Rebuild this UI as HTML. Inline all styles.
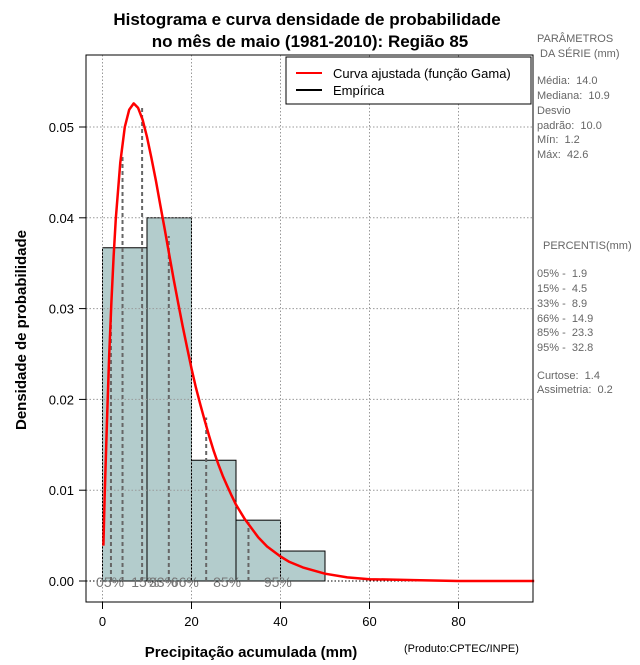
<!DOCTYPE html>
<html><head><meta charset="utf-8"><style>
body{margin:0;background:#fff;font-family:"Liberation Sans",sans-serif}
svg text{font-family:"Liberation Sans",sans-serif}
#stats text{white-space:pre}
</style></head><body>
<svg id="chart" width="640" height="660" xmlns="http://www.w3.org/2000/svg">
<rect width="640" height="660" fill="#fff"/>
<text x="307" y="25" text-anchor="middle" font-size="17" font-weight="bold">Histograma e curva densidade de probabilidade</text>
<text x="310" y="47" text-anchor="middle" font-size="17" font-weight="bold">no mês de maio (1981-2010): Região 85</text>
<g id="bars"></g><g id="grid"></g><g id="pct"></g><g id="curve"></g><g id="axes"></g>
<rect x="86" y="55" width="447" height="547" fill="none" stroke="#000"/>
<g>
<rect x="286" y="57" width="245" height="47" fill="#fff" stroke="#000"/>
<line x1="296" y1="73" x2="322" y2="73" stroke="red" stroke-width="2"/>
<text x="333" y="78" font-size="13">Curva ajustada (função Gama)</text>
<line x1="296" y1="90" x2="322" y2="90" stroke="#000" stroke-width="2"/>
<text x="333" y="95" font-size="13">Empírica</text>
</g>
<text x="251" y="657" text-anchor="middle" font-size="15" font-weight="bold">Precipitação acumulada (mm)</text>
<text x="404" y="652" font-size="11">(Produto:CPTEC/INPE)</text>
<text transform="translate(26,330) rotate(-90)" text-anchor="middle" font-size="15" font-weight="bold">Densidade de probabilidade</text>
<g id="stats" font-size="11" fill="#666" xml:space="preserve">
<text x="537" y="42">PARÂMETROS</text><text x="537" y="57"> DA SÉRIE (mm)</text>
<text x="537" y="84">Média:  14.0</text><text x="537" y="99">Mediana:  10.9</text>
<text x="537" y="114">Desvio</text><text x="537" y="129">padrão:  10.0</text>
<text x="537" y="143">Mín:  1.2</text><text x="537" y="158">Máx:  42.6</text>
<text x="543" y="249">PERCENTIS(mm)</text>
<text x="537" y="277">05% -  1.9</text><text x="537" y="292">15% -  4.5</text>
<text x="537" y="307">33% -  8.9</text><text x="537" y="322">66% -  14.9</text>
<text x="537" y="336">85% -  23.3</text><text x="537" y="351">95% -  32.8</text>
<text x="537" y="379">Curtose:  1.4</text><text x="537" y="393">Assimetria:  0.2</text>
</g>
</svg>
<script>
const binStarts=[0,10,20,30,40];
const binWidth=10;
const densities=[0.0367,0.0400,0.0133,0.0067,0.0033];
const curveX=[0.2,0.5,1,1.5,2,2.5,3,4,5,6,7,8,9,10,11,12,13,14,15,16,17,18,19,20,21,22,23,24,25,26,27,28,29,30,32,35,37,40,42,45,50,55,60,70,80,97];
const curveY=[0.0039,0.0095,0.0177,0.0249,0.0307,0.0357,0.0399,0.0461,0.0500,0.0519,0.0526,0.0521,0.0508,0.0489,0.0466,0.0441,0.0414,0.0387,0.0359,0.0332,0.0306,0.0281,0.0257,0.0234,0.0213,0.0194,0.0176,0.0159,0.0143,0.0129,0.0116,0.0105,0.0094,0.0084,0.0068,0.0048,0.0038,0.0027,0.0021,0.0015,0.0008,0.0004,0.0002,0.0001,0,0];
const pctLabels=["05%","15%","33%","66%","85%","95%"];
const pctValues=[1.9,4.5,8.9,14.9,23.3,32.8];
const pctHeights=[0.0300,0.0470,0.0523,0.0380,0.0180,0.0065];
const pctLabelPos=[1.7,9.6,13.6,18.5,28,39.4];
const xTicks=[0,20,40,60,80];
const yTicks=[0,0.01,0.02,0.03,0.04,0.05];
const yTickLabels=["0.00","0.01","0.02","0.03","0.04","0.05"];
const NS="http://www.w3.org/2000/svg";
const X=v=>102.5+v*4.45, Y=v=>581-v*9080;
function mk(tag,attrs,parent){const e=document.createElementNS(NS,tag);for(const k in attrs)e.setAttribute(k,attrs[k]);document.getElementById(parent).appendChild(e);return e;}
binStarts.forEach((b,i)=>{const r=mk('rect',{x:X(b),y:Y(densities[i]),width:X(b+binWidth)-X(b),height:Y(0)-Y(densities[i]),fill:'#b3cccc',stroke:'#000'},'bars');

});
xTicks.forEach(t=>{const g=mk('line',{x1:X(t),x2:X(t),y1:55,y2:602,stroke:'#999','stroke-dasharray':'1.5,2'},'grid');


const tk=mk('line',{x1:X(t),x2:X(t),y1:602,y2:609,stroke:'#000'},'axes');


const tx=mk('text',{x:X(t),y:626,'text-anchor':'middle','font-size':13},'axes');tx.textContent=t;

});
yTicks.forEach((t,i)=>{const g=mk('line',{x1:86,x2:533,y1:Y(t),y2:Y(t),stroke:t===0?'#000':'#999','stroke-dasharray':'1.5,2'},'grid');


const tk=mk('line',{x1:79,x2:86,y1:Y(t),y2:Y(t),stroke:'#000'},'axes');


const tx=mk('text',{x:74,y:Y(t)+5,'text-anchor':'end','font-size':13},'axes');tx.textContent=yTickLabels[i];

});
pctValues.forEach((v,i)=>{const l=mk('line',{x1:X(v),x2:X(v),y1:Y(0),y2:Y(pctHeights[i]),stroke:'#666','stroke-width':2,'stroke-dasharray':'4,3'},'pct');


const t=mk('text',{x:X(pctLabelPos[i]),y:587,'text-anchor':'middle','font-size':14,fill:'#777'},'pct');t.textContent=pctLabels[i];

});
const p=mk('path',{d:curveX.map((x,i)=>(i?'L':'M')+X(x).toFixed(1)+','+Y(curveY[i]).toFixed(1)).join(''),fill:'none',stroke:'red','stroke-width':2.5,'stroke-linejoin':'round'},'curve');


</script>
</body></html>
